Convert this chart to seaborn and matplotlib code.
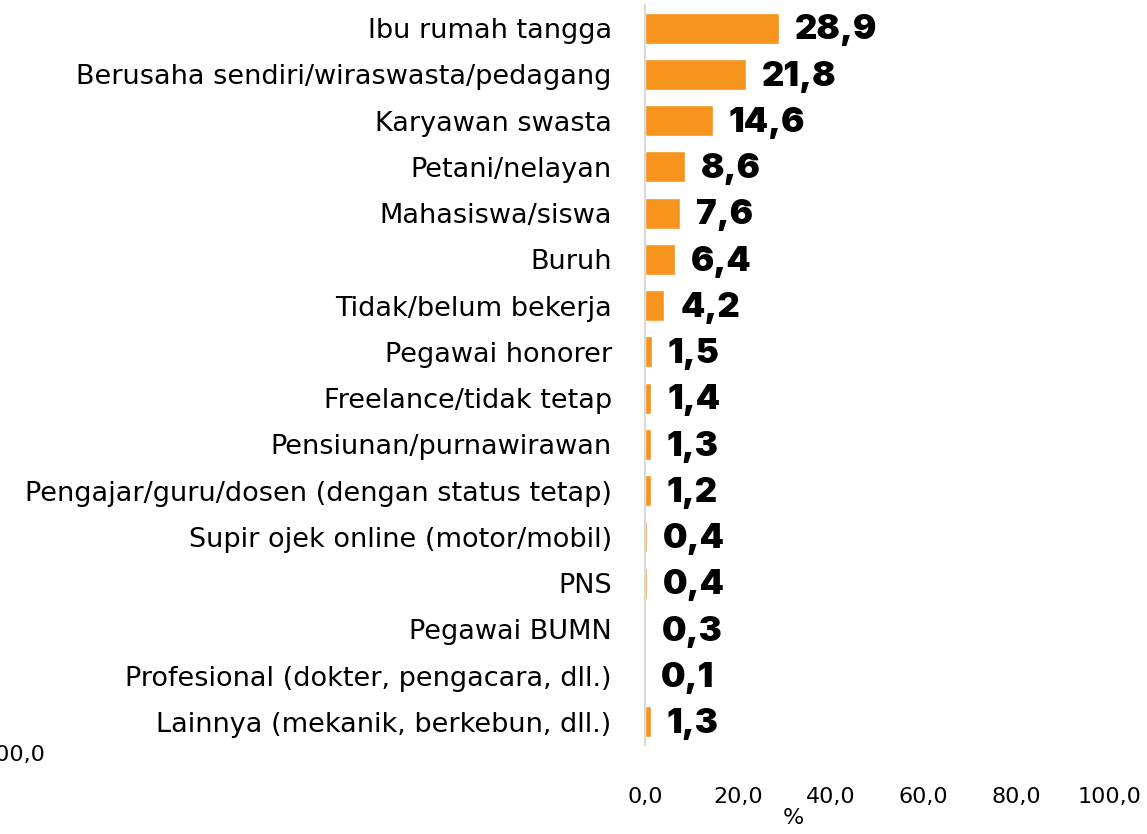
import numpy as np
import pandas as pd
import seaborn as sns
import matplotlib.pyplot as plt

categories = [
    "Ibu rumah tangga",
    "Berusaha sendiri/wiraswasta/pedagang",
    "Karyawan swasta",
    "Petani/nelayan",
    "Mahasiswa/siswa",
    "Buruh",
    "Tidak/belum bekerja",
    "Pegawai honorer",
    "Freelance/tidak tetap",
    "Pensiunan/purnawirawan",
    "Pengajar/guru/dosen (dengan status tetap)",
    "Supir ojek online (motor/mobil)",
    "PNS",
    "Pegawai BUMN",
    "Profesional (dokter, pengacara, dll.)",
    "Lainnya (mekanik, berkebun, dll.)",
]
values = [28.9, 21.8, 14.6, 8.6, 7.6, 6.4, 4.2, 1.5, 1.4, 1.3, 1.2, 0.4, 0.4, 0.3, 0.1, 1.3]
x_ticks = [0, 20, 40, 60, 80, 100]

df = pd.DataFrame({"pekerjaan": categories, "persen": values})

sns.set_style("white")
plt.rcParams['font.family'] = ['DejaVu Sans']
plt.rcParams['text.color'] = 'black'
plt.rcParams['xtick.color'] = 'black'
plt.rcParams['ytick.color'] = 'black'
plt.rcParams['axes.labelcolor'] = 'black'

fig = plt.figure(figsize=(11.47, 8.34), dpi=100)
ax = fig.add_axes([645 / 1147, 1 - 745 / 834, 464 / 1147, 740 / 834])

sns.barplot(data=df, y="pekerjaan", x="persen", color="#F7941D", width=0.67,
            saturation=1, ax=ax, orient="h")

for i, v in enumerate(values):
    ax.text(v + 3.4, i + 0.05, f"{v:.1f}".replace(".", ","), va="center", ha="left",
            fontsize=25, fontweight="black", color="black", family="Inter")

ax.set_xlim(0, 100)
ax.set_ylim(15.5, -0.5)
ax.set_xticks(x_ticks)
ax.set_xticklabels([f"{t:.1f}".replace(".", ",") for t in x_ticks], fontsize=16)
ax.tick_params(axis="x", length=0, pad=30)
ax.tick_params(axis="y", length=0, pad=24, labelsize=19.5)
ax.set_ylabel("")
ax.set_xlabel("%", fontsize=16)
ax.xaxis.set_label_coords(0.32, -0.085)

for s in ["top", "right", "bottom"]:
    ax.spines[s].set_visible(False)
ax.spines["left"].set_color("#d9d9d9")
ax.spines["left"].set_linewidth(1.5)

# clipped label from neighbouring panel
fig.text(-18 / 1147, 1 - 755 / 834, "100,0", fontsize=16, va="center", ha="left")

fig.savefig("out.png", dpi=100)
